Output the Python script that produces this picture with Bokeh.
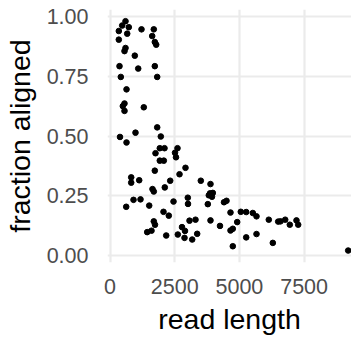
from bokeh.plotting import figure
from bokeh.models import Range1d, FixedTicker, PrintfTickFormatter, BasicTickFormatter
from bokeh.embed import file_html
from bokeh.resources import INLINE

read_length = [599, 471, 340, 726, 665, 340, 1217, 1692, 1631, 1731,
               1785, 599, 560, 958, 367, 1090, 1731, 417, 1824, 638,
               560, 495, 560, 1306, 1824, 1963, 985, 386, 638, 1924,
               2106, 1758, 2608, 2512, 2550, 1924, 2079, 1731, 2917, 2686,
               819, 819, 1128, 2326, 1642, 1692, 2117, 3509, 3883, 908,
               1179, 626, 1515, 2454, 3006, 3014, 3864, 3972, 3818, 3941,
               3779, 2067, 2272, 1692, 1739, 1604, 1437, 2172, 3072, 3304,
               3883, 4250, 2782, 2898, 3369, 2620, 2879, 3176, 4405, 4502,
               4656, 5054, 5263, 5518, 5661, 6136, 6499, 6588, 6770, 6948,
               7206, 7272, 4656, 4745, 4915, 5263, 5661, 4745, 6291, 9204]
fraction_aligned = [0.980, 0.962, 0.939, 0.955, 0.928, 0.903, 0.946, 0.946, 0.918, 0.893,
                    0.882, 0.868, 0.855, 0.836, 0.792, 0.782, 0.792, 0.747, 0.747, 0.695,
                    0.636, 0.625, 0.605, 0.620, 0.536, 0.498, 0.514, 0.496, 0.473, 0.449,
                    0.449, 0.428, 0.449, 0.430, 0.411, 0.397, 0.397, 0.355, 0.367, 0.340,
                    0.327, 0.305, 0.315, 0.313, 0.278, 0.268, 0.285, 0.313, 0.299, 0.233,
                    0.235, 0.204, 0.209, 0.226, 0.242, 0.216, 0.260, 0.262, 0.252, 0.246,
                    0.215, 0.183, 0.167, 0.143, 0.129, 0.104, 0.098, 0.084, 0.146, 0.150,
                    0.147, 0.124, 0.119, 0.103, 0.091, 0.088, 0.074, 0.067, 0.223, 0.229,
                    0.180, 0.183, 0.182, 0.178, 0.164, 0.150, 0.142, 0.143, 0.150, 0.129,
                    0.147, 0.129, 0.105, 0.112, 0.140, 0.076, 0.090, 0.039, 0.053, 0.021]
x_ticks = [0, 2500, 5000, 7500]
y_ticks = [0.0, 0.25, 0.5, 0.75, 1.0]

FONT = "Liberation Sans"

p = figure(width=351, height=337, output_backend="svg", toolbar_location=None,
           x_range=Range1d(-97, 9332), y_range=Range1d(-0.029, 1.029),
           min_border_left=107, min_border_right=0, min_border_top=9,
           min_border_bottom=74)
p.outline_line_color = None
p.background_fill_color = "white"
p.border_fill_color = "white"

p.scatter(read_length, fraction_aligned, size=5.6, color="black", line_color="black")

for ax in (p.xaxis[0], p.yaxis[0]):
    ax.axis_line_color = None
    ax.major_tick_line_color = None
    ax.minor_tick_line_color = None
    ax.major_label_text_font = FONT
    ax.major_label_text_font_size = "21.5px"
    ax.major_label_text_color = "#4D4D4D"
    ax.axis_label_text_font = FONT
    ax.axis_label_text_font_size = "28.5px"
    ax.axis_label_text_font_style = "normal"
    ax.axis_label_text_color = "black"
    ax.major_tick_in = 0
    ax.major_tick_out = 0

p.xaxis[0].ticker = FixedTicker(ticks=x_ticks)
p.xaxis[0].formatter = BasicTickFormatter(use_scientific=False)
p.yaxis[0].ticker = FixedTicker(ticks=y_ticks)
p.yaxis[0].formatter = PrintfTickFormatter(format="%.2f")
p.xaxis[0].axis_label = "read length"
p.yaxis[0].axis_label = "fraction aligned"
p.xaxis[0].major_label_standoff = 16
p.yaxis[0].major_label_standoff = 19
p.xaxis[0].axis_label_standoff = 6
p.yaxis[0].axis_label_standoff = 8

p.xgrid[0].ticker = FixedTicker(ticks=x_ticks)
p.ygrid[0].ticker = FixedTicker(ticks=y_ticks)
for g in (p.xgrid[0], p.ygrid[0]):
    g.grid_line_color = "#EBEBEB"
    g.grid_line_width = 2.2
    g.minor_grid_line_color = None

open("out.html", "w").write(file_html(p, INLINE))
